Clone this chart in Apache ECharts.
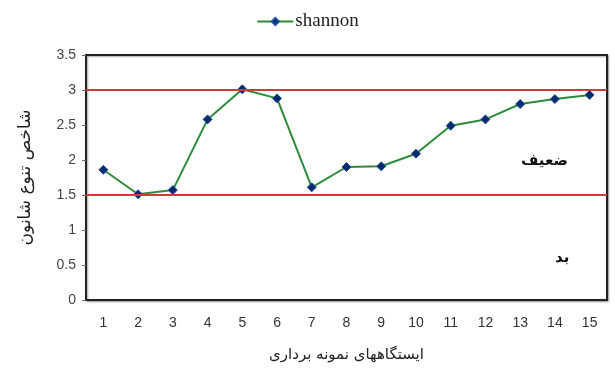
<!DOCTYPE html>
<html><head><meta charset="utf-8">
<script src="https://cdn.jsdelivr.net/npm/echarts@6/dist/echarts.min.js"></script>
<style>html,body{margin:0;padding:0;background:#fff}#c{width:615px;height:369px}</style>
</head><body><div id="c"></div>
<script>
const categories = ['1','2','3','4','5','6','7','8','9','10','11','12','13','14','15'];
const shannon = [1.86, 1.51, 1.57, 2.58, 3.01, 2.88, 1.61, 1.90, 1.91, 2.09, 2.49, 2.58, 2.80, 2.87, 2.93];
const thresholds = [1.5, 3];
const zoneLabels = ['ضعیف', 'بد'];
const yTitle = 'شاخص تنوع شانون';
const xTitle = 'ایستگاههای نمونه برداری';

const chart = echarts.init(document.getElementById('c'), null, {renderer: 'canvas'});
chart.setOption({
  animation: false,
  legend: {
    top: 7, left: 'center',
    itemWidth: 36, itemHeight: 9, itemGap: 4,
    textStyle: {fontFamily: 'Liberation Serif', fontSize: 19, color: '#222', padding: [0,0,0,-3]},
    data: ['shannon']
  },
  grid: {left: 86, right: 8, top: 55, bottom: 69, show: true, borderColor: '#222', borderWidth: 2,
         shadowColor: 'rgba(0,0,0,0.35)', shadowBlur: 2, shadowOffsetX: 1, shadowOffsetY: 1, backgroundColor: '#fff'},
  xAxis: {
    type: 'category', data: categories, boundaryGap: true,
    axisLine: {show: true, lineStyle: {color: '#222', width: 2}},
    axisTick: {show: false},
    axisLabel: {color: '#333', fontFamily: 'Liberation Sans', fontSize: 14, margin: 16},
    name: xTitle, nameLocation: 'middle', nameGap: 48,
    nameTextStyle: {fontFamily: 'DejaVu Sans', fontSize: 15, color: '#222'}
  },
  yAxis: {
    type: 'value', min: 0, max: 3.5, interval: 0.5,
    axisLine: {show: true, lineStyle: {color: '#222', width: 2}},
    axisTick: {show: true, length: 4, lineStyle: {color: '#666'}},
    splitLine: {show: false},
    axisLabel: {color: '#444', fontFamily: 'Liberation Sans', fontSize: 14, margin: 10},
    name: yTitle, nameLocation: 'middle', nameGap: 52, nameRotate: 90,
    nameTextStyle: {fontFamily: 'DejaVu Sans', fontSize: 17, color: '#222'}
  },
  series: [{
    name: 'shannon', type: 'line', data: shannon,
    symbol: 'diamond', symbolSize: 9,
    lineStyle: {color: '#2e8b3a', width: 2},
    itemStyle: {color: '#0b2a6e', borderColor: '#1a4fa0', borderWidth: 1},
    markLine: {
      silent: true, symbol: ['none', 'none'], label: {show: false},
      lineStyle: {color: '#d03a3a', width: 2, type: 'solid'},
      data: thresholds.map(v => ({yAxis: v}))
    },
    z: 3
  }],
  graphic: [
    {type: 'text', left: 521, top: 154, style: {text: zoneLabels[0], font: 'bold 15px "DejaVu Sans"', fill: '#111'}},
    {type: 'text', left: 555, top: 251, style: {text: zoneLabels[1], font: 'bold 15px "DejaVu Sans"', fill: '#111'}}
  ]
});
</script></body></html>
